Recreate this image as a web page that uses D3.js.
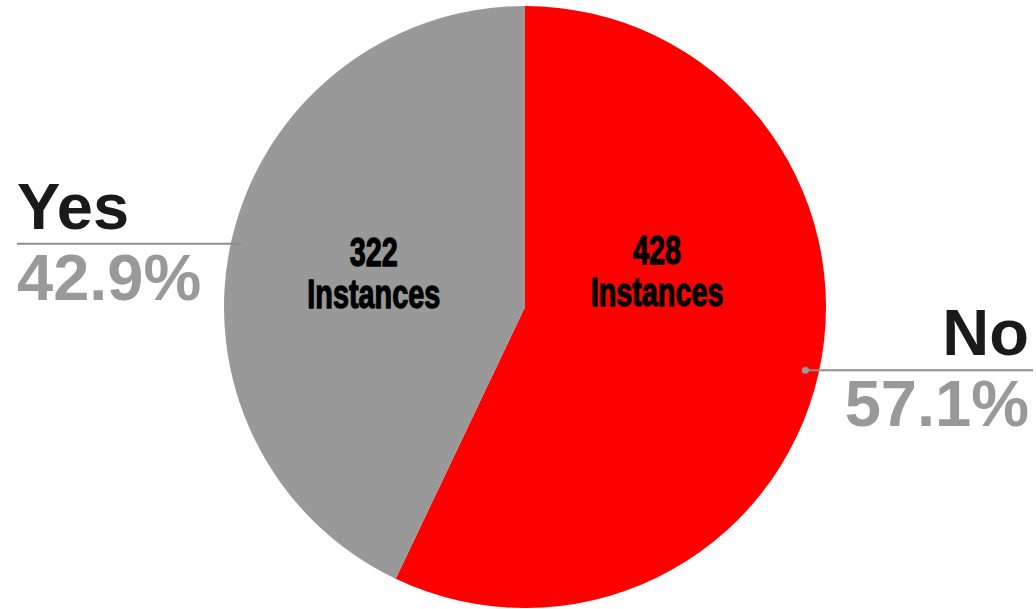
<!DOCTYPE html>
<html>
<head>
<meta charset="utf-8">
<script src="https://cdn.jsdelivr.net/npm/d3@7/dist/d3.min.js"></script>
<style>
  html, body { margin: 0; padding: 0; background: #fff; }
  svg { display: block; }
</style>
</head>
<body>
<svg id="chart" width="1036" height="609"></svg>
<script>
// ---- data ----
const categories = ["No", "Yes"];
const counts = [428, 322];
const percentLabels = ["57.1%", "42.9%"];
const countLabels = ["428", "322"];
const unitLabel = "Instances";
const colors = ["#ff0000", "#999999"];

// ---- layout ----
const W = 1036, H = 609;
const cx = 525, cy = 307, R = 301;
const svg = d3.select("#chart");
const g = svg.append("g").attr("transform", `translate(${cx},${cy})`);

const data = categories.map((c, i) => ({ cat: c, value: counts[i], pct: percentLabels[i], cnt: countLabels[i], color: colors[i] }));

const pie = d3.pie().value(d => d.value).sort(null);
const arcs = pie(data);
const arc = d3.arc().innerRadius(0).outerRadius(R);

g.selectAll("path.slice").data(arcs).enter().append("path")
  .attr("class", "slice")
  .attr("d", arc)
  .attr("fill", d => d.data.color);

// outside labels with leader lines
const outFont = "'Liberation Sans', Arial, sans-serif";
arcs.forEach((a) => {
  const mid = (a.startAngle + a.endAngle) / 2;
  const rr = R * 0.955;
  const x0 = cx + Math.sin(mid) * rr, y0 = cy - Math.cos(mid) * rr;
  const right = Math.sin(mid) > 0;
  const x1 = right ? 1033 : 17;
  svg.append("line").attr("x1", x0).attr("y1", y0).attr("x2", x1).attr("y2", y0)
    .attr("stroke", "#8e8e8e").attr("stroke-width", 2);
  svg.append("circle").attr("cx", x0).attr("cy", y0).attr("r", 3.5).attr("fill", "#999999");
  const tx = right ? 1029 : 17;
  const anchor = right ? "end" : "start";
  svg.append("text").attr("x", tx).attr("y", y0 - 15).attr("text-anchor", anchor)
    .attr("font-family", outFont).attr("font-weight", "bold").attr("font-size", 65)
    .attr("fill", "#1a1a1a").text(a.data.cat);
  svg.append("text").attr("x", tx).attr("y", y0 + 56).attr("text-anchor", anchor)
    .attr("font-family", outFont).attr("font-weight", "bold").attr("font-size", 65)
    .attr("fill", "#999999").text(a.data.pct);
});

// inner labels
const innerFont = "'Liberation Sans', Arial, sans-serif";
const innerLayout = [ { shift: -0.49, k: 0.455 }, { shift: 0, k: 0.515 } ];
arcs.forEach((a, i) => {
  const mid = (a.startAngle + a.endAngle) / 2 + innerLayout[i].shift;
  const rr = R * innerLayout[i].k;
  const x = Math.sin(mid) * rr, y = -Math.cos(mid) * rr;
  const t = g.append("g").attr("transform", `translate(${x},${y}) scale(0.72,1)`);
  [[a.data.cnt, -7], [unitLabel, 35]].forEach(([s, dy]) => {
    t.append("text").attr("text-anchor", "middle").attr("y", dy)
      .attr("font-family", innerFont).attr("font-weight", "bold").attr("font-size", 40)
      .attr("fill", "#000").attr("stroke", "#000").attr("stroke-width", 1.3)
      .attr("stroke-linejoin", "round").text(s);
  });
});
</script>
</body>
</html>
